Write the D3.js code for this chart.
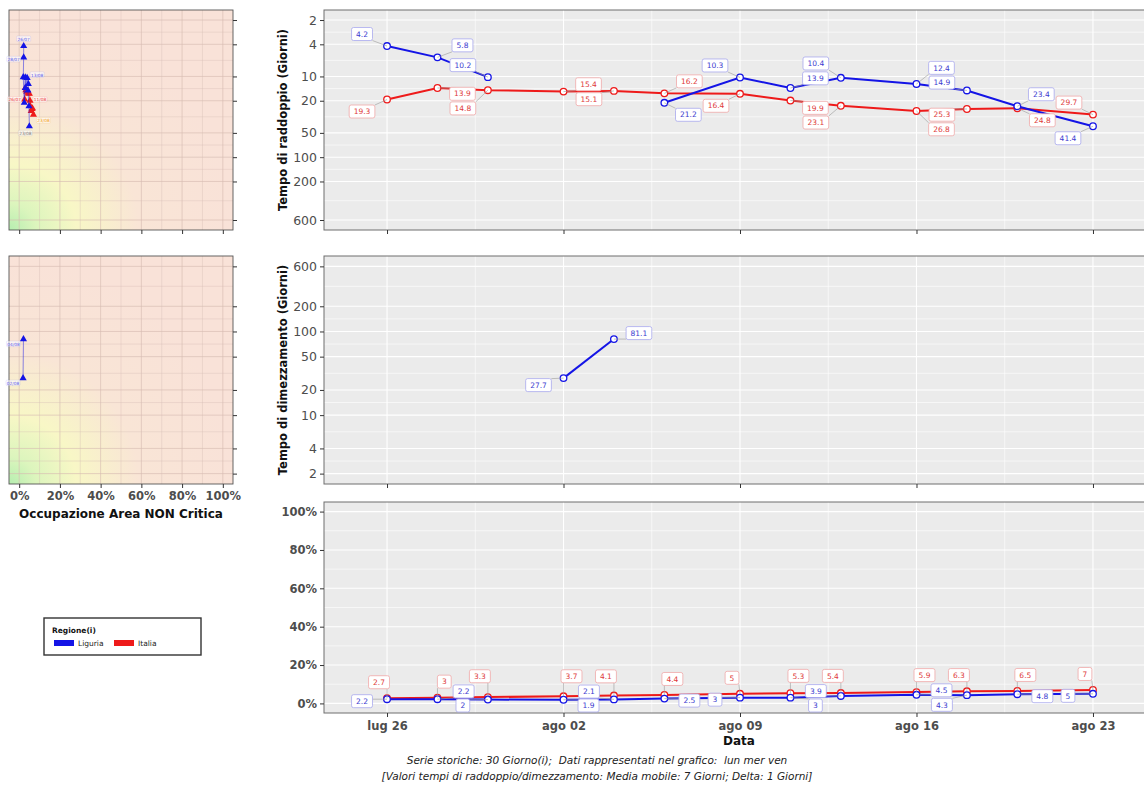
<!DOCTYPE html>
<meta charset="utf-8">
<style>
  body { margin: 0; background: #ffffff; }
  text { font-family: "DejaVu Sans", sans-serif; }
</style>
<body>
<script src="https://cdn.jsdelivr.net/npm/d3@7"></script>
<script>

// ---- data ----
var dates = ["2021-07-26", "2021-07-28", "2021-07-30", "2021-08-02", "2021-08-04", "2021-08-06",
             "2021-08-09", "2021-08-11", "2021-08-13", "2021-08-16", "2021-08-18", "2021-08-20", "2021-08-23"];
var regioni = ["Liguria", "Italia"];

// tempo di raddoppio (giorni)
var raddoppioLiguria = [4.2, 5.8, 10.2, null, null, 21.2, 10.3, 13.9, 10.4, 12.4, 14.9, 23.4, 41.4];
var raddoppioItalia  = [19.3, 13.9, 14.8, 15.4, 15.1, 16.2, 16.4, 19.9, 23.1, 26.8, 25.3, 24.8, 29.7];
// tempo di dimezzamento (giorni)
var dimezzamentoLiguria = [null, null, null, 27.7, 81.1, null, null, null, null, null, null, null, null];
var dimezzamentoItalia  = [null, null, null, null, null, null, null, null, null, null, null, null, null];
// occupazione area non critica (%)
var occupazioneLiguria = [2.2, 2.2, 2, 1.9, 2.1, 2.5, 3, 3, 3.9, 4.5, 4.3, 4.8, 5];
var occupazioneItalia  = [2.7, 3, 3.3, 3.7, 4.1, 4.4, 5, 5.3, 5.4, 5.9, 6.3, 6.5, 7];

var logTicks = [2, 4, 10, 20, 50, 100, 200, 600];
var pctTicks = [0, 20, 40, 60, 80, 100];
var dateTicks = ["2021-07-26", "2021-08-02", "2021-08-09", "2021-08-16", "2021-08-23"];
var meseBreve = ["gen", "feb", "mar", "apr", "mag", "giu", "lug", "ago", "set", "ott", "nov", "dic"];

// ---- setup ----
var W = 1144, H = 785;
var colore = { Liguria: "#1414e6", Italia: "#ee1a1a" };
var coloreTesto = { Liguria: "#3b3bd0", Italia: "#de3a3a" };
var coloreBordo = { Liguria: "#a8a8ee", Italia: "#f0a8a8" };

var parse = d3.timeParse("%Y-%m-%d");
var giorni = dates.map(parse);

var svg = d3.select("body").append("svg")
    .attr("width", W)
    .attr("height", H);

var defs = svg.append("defs");

// shared time axis for the three main panels
var x = d3.scaleTime()
  .domain([new Date(2021, 6, 23, 12), new Date(2021, 7, 25, 12)])
  .range([324, 1156]);

var logDomain = [1.503, 798];

// the halving panel is upside down compared to the doubling one
var panels = [
  { y0: 10,  y1: 230, tipo: "log", rev: false, a: raddoppioLiguria, b: raddoppioItalia, titolo: "Tempo di raddoppio (Giorni)" },
  { y0: 256, y1: 484, tipo: "log", rev: true, a: dimezzamentoLiguria, b: dimezzamentoItalia, titolo: "Tempo di dimezzamento (Giorni)" },
  { y0: 502, y1: 713, tipo: "pct", rev: false, a: occupazioneLiguria, b: occupazioneItalia, titolo: null }
];

function fmtData(d) {
  return meseBreve[d.getMonth()] + " " + d3.timeFormat("%d")(d);
}

// simple ggrepel-like placement
function repel(items, bounds, obstacles) {
  for (var it = 0; it < 300; it++) {
    for (var i = 0; i < items.length; i++) {
      for (var j = i + 1; j < items.length; j++) {
        var a = items[i], b = items[j];
        var ox = (a.w + b.w) / 2 + 2 - Math.abs(a.x - b.x);
        var oy = (a.h + b.h) / 2 + 2 - Math.abs(a.y - b.y);
        if (ox > 0 && oy > 0) {
          if (ox < oy) {
            var s = a.x < b.x ? -1 : 1;
            a.x += s * ox / 2; b.x -= s * ox / 2;
          } else {
            var s2 = a.y < b.y ? -1 : 1;
            a.y += s2 * oy / 2; b.y -= s2 * oy / 2;
          }
        }
      }
    }
    items.forEach(function(a) {
      obstacles.forEach(function(p) {
        var ox = a.w / 2 + 4 - Math.abs(a.x - p[0]);
        var oy = a.h / 2 + 4 - Math.abs(a.y - p[1]);
        if (ox > 0 && oy > 0) {
          if (ox < oy) a.x += (a.x < p[0] ? -1 : 1) * ox;
          else a.y += (a.y < p[1] ? -1 : 1) * oy;
        }
      });
      a.x += (a.tx - a.x) * 0.03;
      a.y += (a.ty - a.y) * 0.03;
      a.x = Math.max(bounds[0] + a.w / 2 + 1, Math.min(bounds[1] - a.w / 2 - 1, a.x));
      a.y = Math.max(bounds[2] + a.h / 2 + 1, Math.min(bounds[3] - a.h / 2 - 1, a.y));
    });
  }
}

var measure = svg.append("text").style("font-size", "7.5px").attr("x", -100).attr("y", -100);
function larghezza(t) {
  measure.text(t);
  return measure.node().getComputedTextLength();
}

// ---- main panels ----
panels.forEach(function(p) {
  var y = p.tipo === "log"
    ? d3.scaleLog().domain(logDomain).range(p.rev ? [p.y1, p.y0] : [p.y0, p.y1])
    : d3.scaleLinear().domain([105, -5]).range([p.y0, p.y1]);
  var g = svg.append("g");

  g.append("rect")
    .attr("x", 324).attr("y", p.y0)
    .attr("width", 1156 - 324).attr("height", p.y1 - p.y0)
    .attr("fill", "#ebebeb");

  // grid
  var minori = p.tipo === "log"
    ? d3.pairs(logTicks).map(function(c) { return Math.sqrt(c[0] * c[1]); })
    : [10, 30, 50, 70, 90];
  var maggiori = p.tipo === "log" ? logTicks : pctTicks;
  g.selectAll(".hmin").data(minori).enter().append("line")
    .attr("x1", 324).attr("x2", 1156)
    .attr("y1", function(d) { return y(d); }).attr("y2", function(d) { return y(d); })
    .attr("stroke", "#ffffff").attr("stroke-width", 0.6);
  g.selectAll(".hmaj").data(maggiori).enter().append("line")
    .attr("x1", 324).attr("x2", 1156)
    .attr("y1", function(d) { return y(d); }).attr("y2", function(d) { return y(d); })
    .attr("stroke", "#ffffff").attr("stroke-width", 1.1);
  var tickDate = dateTicks.map(parse);
  var minDate = tickDate.map(function(d) { return d3.timeHour.offset(d, 84); });
  g.selectAll(".vmin").data(minDate).enter().append("line")
    .attr("x1", function(d) { return x(d); }).attr("x2", function(d) { return x(d); })
    .attr("y1", p.y0).attr("y2", p.y1)
    .attr("stroke", "#ffffff").attr("stroke-width", 0.6);
  g.selectAll(".vmaj").data(tickDate).enter().append("line")
    .attr("x1", function(d) { return x(d); }).attr("x2", function(d) { return x(d); })
    .attr("y1", p.y0).attr("y2", p.y1)
    .attr("stroke", "#ffffff").attr("stroke-width", 1.1);

  g.append("rect")
    .attr("x", 324).attr("y", p.y0)
    .attr("width", 1156 - 324).attr("height", p.y1 - p.y0)
    .attr("fill", "none").attr("stroke", "#6e6e6e").attr("stroke-width", 1);

  // y axis
  var yAxis = d3.axisLeft(y).tickValues(maggiori).tickSize(4).tickPadding(3)
    .tickFormat(p.tipo === "log" ? d3.format("d") : function(d) { return d + "%"; });
  var ya = g.append("g").attr("transform", "translate(324,0)").call(yAxis);
  ya.select(".domain").remove();
  ya.selectAll("line").attr("stroke", "#333");
  ya.selectAll("text")
    .style("font-size", p.tipo === "log" ? "12.5px" : "11.5px")
    .style("font-weight", p.tipo === "log" ? "normal" : "bold")
    .attr("fill", "#4d4d4d");

  // x axis
  var xAxis = d3.axisBottom(x).tickValues(tickDate).tickSize(4).tickPadding(5).tickFormat(fmtData);
  var xa = g.append("g").attr("transform", "translate(0," + p.y1 + ")").call(xAxis);
  xa.select(".domain").remove();
  xa.selectAll("line").attr("stroke", "#333");
  if (p.tipo === "log") xa.selectAll("text").remove();
  else xa.selectAll("text").style("font-size", "11.5px").style("font-weight", "bold").attr("fill", "#4d4d4d");

  if (p.titolo) {
    g.append("text")
      .attr("transform", "translate(287," + ((p.y0 + p.y1) / 2) + ") rotate(-90)")
      .attr("text-anchor", "middle")
      .style("font-size", "11.5px").style("font-weight", "bold")
      .attr("fill", "#111")
      .text(p.titolo);
  }

  // series
  var serie = [
    { nome: "Liguria", v: p.a },
    { nome: "Italia", v: p.b }
  ];
  var line = d3.line()
    .defined(function(d) { return d.v != null; })
    .x(function(d) { return x(d.t); })
    .y(function(d) { return y(d.v); });

  var punti = [];
  serie.forEach(function(s) {
    s.pts = giorni.map(function(t, i) { return { t: t, v: s.v[i], i: i }; });
    s.pts.forEach(function(d) { if (d.v != null) punti.push([x(d.t), y(d.v)]); });
  });

  // Italia drawn first, Liguria on top
  serie.slice().reverse().forEach(function(s) {
    g.append("path")
      .datum(s.pts)
      .attr("fill", "none")
      .attr("stroke", colore[s.nome])
      .attr("stroke-width", 2)
      .attr("d", line);
    g.selectAll(null)
      .data(s.pts.filter(function(d) { return d.v != null; }))
      .enter().append("circle")
      .attr("cx", function(d) { return x(d.t); })
      .attr("cy", function(d) { return y(d.v); })
      .attr("r", 3.3)
      .attr("fill", "#ffffff")
      .attr("stroke", colore[s.nome])
      .attr("stroke-width", 1.3);
  });

  // labels
  var items = [];
  serie.forEach(function(s, k) {
    var altra = serie[1 - k];
    var m = 0;
    s.pts.forEach(function(d, n) {
      if (d.v == null) return;
      var ax = x(d.t), ay = y(d.v);
      var ov = altra.v[d.i];
      var dy, lato = (n % 2 === 0) ? -1 : 1;
      if (ov == null) {
        // lone point: alternate along the series itself
        lato = (m % 2 === 0) ? -1 : 1;
        dy = (m % 2 === 0) ? 7 : -6;
      } else dy = y(ov) < ay ? 12 : -12;
      m++;
      if (p.tipo === "pct") dy = s.nome === "Italia" ? -16 : 2;
      var dx = lato * (p.tipo === "pct" && s.nome === "Italia" ? 8 : 25);
      var testo = String(d.v);
      var w = larghezza(testo) + 9, h = 13;
      items.push({ ax: ax, ay: ay, tx: ax + dx, ty: ay + dy, x: ax + dx, y: ay + dy, w: w, h: h, testo: testo, nome: s.nome });
    });
  });
  repel(items, [324, 1144, p.y0, p.y1], punti);

  var lab = g.append("g");
  items.forEach(function(a) {
    // segment to box edge when the label is far from its point
    var ex = Math.max(a.x - a.w / 2, Math.min(a.x + a.w / 2, a.ax));
    var ey = Math.max(a.y - a.h / 2, Math.min(a.y + a.h / 2, a.ay));
    if (Math.hypot(ex - a.ax, ey - a.ay) > 6) {
      lab.append("line")
        .attr("x1", a.ax).attr("y1", a.ay).attr("x2", ex).attr("y2", ey)
        .attr("stroke", "#9a9a9a").attr("stroke-width", 0.6);
    }
  });
  items.forEach(function(a) {
    lab.append("rect")
      .attr("x", a.x - a.w / 2).attr("y", a.y - a.h / 2)
      .attr("width", a.w).attr("height", a.h)
      .attr("rx", 2)
      .attr("fill", "#ffffff")
      .attr("stroke", coloreBordo[a.nome])
      .attr("stroke-width", 0.8);
    lab.append("text")
      .attr("x", a.x).attr("y", a.y + 2.7)
      .attr("text-anchor", "middle")
      .style("font-size", "7.5px")
      .attr("fill", coloreTesto[a.nome])
      .text(a.testo);
  });
});

measure.remove();

// x title + caption
svg.append("text")
  .attr("x", 739).attr("y", 745)
  .attr("text-anchor", "middle")
  .style("font-size", "12px").style("font-weight", "bold")
  .attr("fill", "#111")
  .text("Data");

svg.append("text")
  .attr("x", 597).attr("y", 764)
  .attr("text-anchor", "middle")
  .attr("xml:space", "preserve").style("white-space", "pre")
  .style("font-size", "10.5px").style("font-style", "italic")
  .attr("fill", "#222")
  .text("Serie storiche: 30 Giorno(i);  Dati rappresentati nel grafico:  lun mer ven");
svg.append("text")
  .attr("x", 597).attr("y", 780)
  .attr("text-anchor", "middle")
  .style("font-size", "10.5px").style("font-style", "italic")
  .attr("fill", "#222")
  .text("[Valori tempi di raddoppio/dimezzamento: Media mobile: 7 Giorni; Delta: 1 Giorni]");

// ---- left scatter panels (occupazione vs tempo) ----
var grad = defs.append("radialGradient")
  .attr("id", "zona")
  .attr("cx", 0).attr("cy", 1).attr("r", 1)
  .attr("fx", 0).attr("fy", 1);
grad.append("stop").attr("offset", "0%").attr("stop-color", "#b6eeb0");
grad.append("stop").attr("offset", "12%").attr("stop-color", "#dcf5bd");
grad.append("stop").attr("offset", "30%").attr("stop-color", "#f8f7c6");
grad.append("stop").attr("offset", "58%").attr("stop-color", "#f9e5d6");
grad.append("stop").attr("offset", "100%").attr("stop-color", "#f9e2d8");

var xs = d3.scaleLinear().domain([-5, 105]).range([9, 233]);

var sinistra = [
  { y0: 10,  y1: 230, rev: false, a: raddoppioLiguria, b: raddoppioItalia },
  { y0: 256, y1: 484, rev: true, a: dimezzamentoLiguria, b: dimezzamentoItalia }
];

sinistra.forEach(function(p, idx) {
  var y = d3.scaleLog().domain(logDomain).range(p.rev ? [p.y1, p.y0] : [p.y0, p.y1]);
  var g = svg.append("g");
  g.append("rect")
    .attr("x", 9).attr("y", p.y0)
    .attr("width", 224).attr("height", p.y1 - p.y0)
    .attr("fill", "url(#zona)");

  var vx = d3.range(0, 101, 10);
  g.selectAll(null).data(vx).enter().append("line")
    .attr("x1", function(d) { return xs(d); }).attr("x2", function(d) { return xs(d); })
    .attr("y1", p.y0).attr("y2", p.y1)
    .attr("stroke", "#d6bcb2").attr("stroke-opacity", function(d) { return d % 20 === 0 ? 0.8 : 0.45; })
    .attr("stroke-width", 0.8);
  var hy = logTicks.concat(d3.pairs(logTicks).map(function(c) { return Math.sqrt(c[0] * c[1]); }));
  g.selectAll(null).data(hy).enter().append("line")
    .attr("x1", 9).attr("x2", 233)
    .attr("y1", function(d) { return y(d); }).attr("y2", function(d) { return y(d); })
    .attr("stroke", "#d6bcb2").attr("stroke-opacity", function(d) { return logTicks.indexOf(d) >= 0 ? 0.8 : 0.45; })
    .attr("stroke-width", 0.8);

  g.append("rect")
    .attr("x", 9).attr("y", p.y0)
    .attr("width", 224).attr("height", p.y1 - p.y0)
    .attr("fill", "none").attr("stroke", "#555").attr("stroke-width", 0.9);

  var ya = g.append("g").attr("transform", "translate(233,0)")
    .call(d3.axisRight(y).tickValues(logTicks).tickSize(4).tickFormat(""));
  ya.select(".domain").remove();
  ya.selectAll("line").attr("stroke", "#333");

  var xa = g.append("g").attr("transform", "translate(0," + p.y1 + ")")
    .call(d3.axisBottom(xs).tickValues(pctTicks).tickSize(4).tickPadding(4)
      .tickFormat(function(d) { return d + "%"; }));
  xa.select(".domain").remove();
  xa.selectAll("line").attr("stroke", "#333");
  if (idx === 0) xa.selectAll("text").remove();
  else xa.selectAll("text").style("font-size", "11.5px").style("font-weight", "bold").attr("fill", "#4d4d4d");

  var serie = [
    { nome: "Italia", v: p.b, occ: occupazioneItalia },
    { nome: "Liguria", v: p.a, occ: occupazioneLiguria }
  ];
  serie.forEach(function(s) {
    var pts = giorni.map(function(t, i) { return { t: t, v: s.v[i], o: s.occ[i], i: i }; })
      .filter(function(d) { return d.v != null; });
    g.append("path")
      .datum(pts)
      .attr("fill", "none")
      .attr("stroke", colore[s.nome])
      .attr("stroke-width", 0.7)
      .attr("stroke-opacity", 0.7)
      .attr("d", d3.line().x(function(d) { return xs(d.o); }).y(function(d) { return y(d.v); }));
    g.selectAll(null).data(pts).enter().append("path")
      .attr("transform", function(d) { return "translate(" + xs(d.o) + "," + y(d.v) + ")"; })
      .attr("d", d3.symbol().type(d3.symbolTriangle).size(22))
      .attr("fill", colore[s.nome]);

    // tiny date labels, as in the original (only a few, they crowd quickly)
    var ultimo = pts.length - 1;
    pts.forEach(function(d, n) {
      var lato, sopra;
      if (idx === 1) { lato = -1; sopra = 5; }
      else if (s.nome === "Liguria") {
        if (n === 0) { lato = 0; sopra = -7; }
        else if (n === 1) { lato = -1; sopra = 2; }
        else if (n === 6) { lato = 1; sopra = -3; }
        else if (n === ultimo) { lato = -0.4; sopra = 7; }
        else return;
      } else {
        if (n === 0) { lato = -1; sopra = 0; }
        else if (n === 7) { lato = 1; sopra = -1; }
        else if (n === ultimo) { lato = 1; sopra = 6; }
        else return;
      }
      var colTesto = s.nome === "Liguria" ? "#5a5af0" : "#f04040";
      if (n === ultimo && idx === 0) colTesto = s.nome === "Liguria" ? "#777" : "#f39c12";
      var tx = xs(d.o) + lato * 10, ty = y(d.v) + sopra;
      var testo = d3.timeFormat("%d/%m")(d.t);
      g.append("rect")
        .attr("x", tx - 7).attr("y", ty - 3)
        .attr("width", 14).attr("height", 5.5)
        .attr("rx", 1)
        .attr("fill", "#ffffff").attr("fill-opacity", 0.6)
        .attr("stroke", colTesto).attr("stroke-opacity", 0.4).attr("stroke-width", 0.3);
      g.append("text")
        .attr("x", tx).attr("y", ty + 1.7)
        .attr("text-anchor", "middle")
        .style("font-size", "4.3px")
        .attr("fill", colTesto)
        .text(testo);
    });
  });
});

svg.append("text")
  .attr("x", 121).attr("y", 518)
  .attr("text-anchor", "middle")
  .style("font-size", "12px").style("font-weight", "bold")
  .attr("fill", "#111")
  .text("Occupazione Area NON Critica");

// ---- legend ----
var leg = svg.append("g");
leg.append("rect")
  .attr("x", 44).attr("y", 618).attr("width", 157).attr("height", 37)
  .attr("fill", "#ffffff").attr("stroke", "#333").attr("stroke-width", 1.4);
leg.append("text")
  .attr("x", 52).attr("y", 633)
  .style("font-size", "7.5px").style("font-weight", "bold")
  .attr("fill", "#111")
  .text("Regione(i)");
var lx = d3.scalePoint().domain(regioni).range([54, 114]);
regioni.forEach(function(r) {
  leg.append("rect")
    .attr("x", lx(r)).attr("y", 640).attr("width", 20).attr("height", 6)
    .attr("fill", colore[r]);
  leg.append("text")
    .attr("x", lx(r) + 24).attr("y", 646)
    .style("font-size", "7.5px")
    .attr("fill", "#222")
    .text(r);
});

</script>
</body>
